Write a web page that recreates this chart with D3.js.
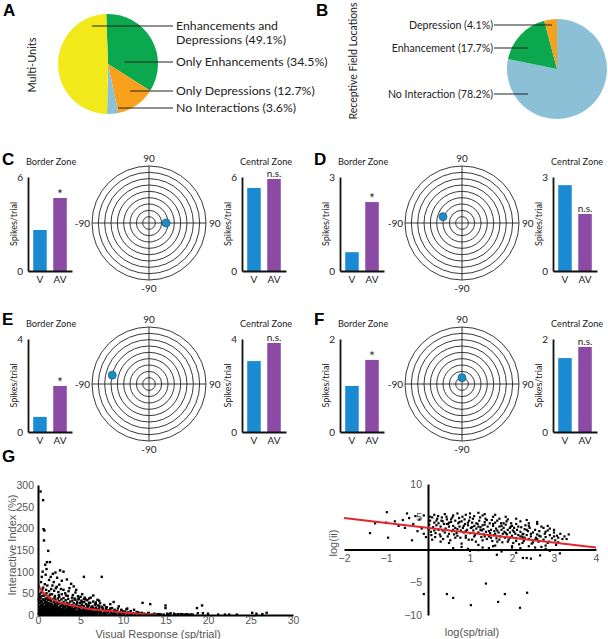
<!DOCTYPE html>
<html>
<head>
<meta charset="utf-8">
<script src="https://cdn.jsdelivr.net/npm/d3@7"></script>
<style>
  body { margin: 0; background: #fff; }
  svg { display: block; }
</style>
</head>
<body>
<svg id="fig" width="608" height="639"></svg>
<script>
const svg = d3.select('#fig');
const FONT = 'Lato, "Liberation Sans", sans-serif';
const SANS = '"Liberation Sans", Arial, sans-serif';
const NARROW = '"Liberation Sans Narrow", "Arial Narrow", "Liberation Sans", sans-serif';
const fmt = d3.format('d');

// ---------- data ----------
// pie A, clockwise from 12 o'clock
const multiUnitLabels = ['Only Enhancements', 'Only Depressions', 'No Interactions', 'Enhancements and Depressions'];
const multiUnitPct = [34.5, 12.7, 3.6, 49.1];
// pie B, clockwise from 12 o'clock
const rfLabels = ['No Interaction', 'Enhancement', 'Depression'];
const rfPct = [78.2, 17.7, 4.1];

// panels C-F
const panelNames = ['C', 'D', 'E', 'F'];
const barCats = ['V', 'AV'];
const borderV = [2.62, 0.6, 0.65, 0.99];
const borderAV = [4.66, 2.2, 1.98, 1.55];
const centralV = [5.3, 2.74, 3.05, 1.59];
const centralAV = [5.87, 1.82, 3.83, 1.83];
const spikeMax = [6, 3, 4, 2];
const rfAzimuth = [27, -30, -58, 0];
const rfElevation = [0, 10, 14, 10];
const polarRings = [10, 20, 30, 40, 50, 60, 70, 80, 90];

// panel G left: visual response (sp/trial) vs interactive index (%)
const visII = [
  [0.3,285],[0.6,265],[0.65,198],[0.75,195],[0.7,172],[1.2,148],[1.05,122],[1.4,122],[0.85,116],[0.55,100],
  [1.0,106],[2.6,103],[3.0,100],[2.05,98],[1.75,95],[0.45,88],[0.9,93],[1.5,88],[2.25,86],[3.4,82],
  [2.8,79],[5.4,88],[7.5,88],[1.3,81],[0.35,76],[1.85,76],[0.8,71],[3.9,72],[2.5,70],[4.2,66],
  [1.1,68],[0.6,63],[2.1,62],[1.55,60],[3.0,58],[0.95,58],[1.3,55],[1.9,56],[2.4,53],[3.6,55],
  [4.4,52],[0.4,52],[1.0,50],[1.65,48],[2.8,48],[6.5,45],[5.0,42],[3.3,45],[0.7,45],[1.2,43],
  [2.0,44],[4.0,40],[4.8,38],[5.6,36],[7.0,35],[8.9,30],[12.3,28],[13.2,25],[15.0,22],[15.0,16],
  [18.7,16],[19.3,22],[9.5,20],[3.7,62],[4.5,58],[2.2,65],[1.7,68],[0.5,58],[2.7,60],[3.2,50],
  [5.2,48],[6.2,40],[1.4,47],[0.25,42],[0.2,48],[0.5,44],[0.9,46],[1.1,38],[0.35,32],[0.6,36],
  [0.85,33],[1.45,36],[1.95,40],[2.5,42],[3.0,39],[3.5,44],[4.1,46],[4.7,43],[5.5,40],[6.0,38],
  [7.2,33],[6.8,29],[5.4,37],[4.3,38],[2.45,46],
  [0.1,35],[0.15,20],[0.2,8],[0.2,28],[0.25,3],[0.3,15],[0.3,38],[0.35,5],[0.4,22],[0.4,1],
  [0.45,12],[0.5,30],[0.5,6],[0.55,18],[0.6,2],[0.6,25],[0.65,10],[0.7,35],[0.7,4],[0.75,16],
  [0.8,28],[0.8,1],[0.85,8],[0.9,20],[0.9,38],[0.95,3],[1.0,14],[1.0,30],[1.05,6],[1.1,24],
  [1.1,0.5],[1.15,11],[1.2,34],[1.2,18],[1.25,3],[1.3,27],[1.3,8],[1.35,40],[1.4,15],[1.4,1],
  [1.45,22],[1.5,32],[1.5,5],[1.55,12],[1.6,26],[1.6,0.5],[1.65,18],[1.7,37],[1.7,7],[1.75,2],
  [1.8,22],[1.8,13],[1.85,30],[1.9,4],[1.9,17],[1.95,9],[2.0,26],[2.0,1],[2.05,35],[2.1,14],
  [2.1,6],[2.15,21],[2.2,3],[2.2,30],[2.25,11],[2.3,18],[2.35,38],[2.4,7],[2.4,25],[2.45,1],
  [2.5,15],[2.5,32],[2.55,4],[2.6,20],[2.65,10],[2.7,27],[2.7,2],[2.75,36],[2.8,13],[2.85,6],
  [2.9,23],[2.9,0.5],[2.95,17],[3.0,30],[3.0,8],[3.05,3],[3.1,12],[3.15,25],[3.2,19],[3.2,1],
  [3.25,34],[3.3,6],[3.35,14],[3.4,28],[3.4,2],[3.45,10],[3.5,21],[3.55,37],[3.6,4],[3.6,16],
  [3.65,26],[3.7,8],[3.75,1],[3.8,19],[3.8,31],[3.85,12],[3.9,5],[3.95,23],[4.0,15],[4.0,0.5],
  [4.05,33],[4.1,9],[4.15,20],[4.2,3],[4.2,27],[4.3,13],[4.35,6],[4.4,18],[4.4,35],[4.45,1],
  [4.5,24],[4.55,10],[4.6,30],[4.6,4],[4.7,16],[4.75,36],[4.8,7],[4.8,21],[4.85,2],[4.9,12],
  [4.95,28],[5.0,5],[5.0,18],[5.1,33],[5.15,9],[5.2,1],[5.2,24],[5.3,14],[5.35,4],[5.4,20],
  [5.45,30],[5.5,8],[5.55,2],[5.6,16],[5.65,25],[5.7,11],[5.8,5],[5.8,34],[5.85,19],[5.9,1],
  [5.95,13],[6.0,22],[6.05,7],[6.1,3],[6.15,28],[6.2,15],[6.3,10],[6.35,1],[6.4,20],[6.45,5],
  [6.5,31],[6.55,13],[6.6,2],[6.7,24],[6.75,8],[6.8,17],[6.9,4],[6.95,11],[7.0,1],[7.05,22],
  [7.1,6],[7.2,15],[7.3,27],[7.35,3],[7.4,9],[7.5,19],[7.6,1],[7.65,12],[7.7,5],[7.8,23],
  [7.9,8],[8.0,14],[8.05,2],[8.1,18],[8.2,6],[8.3,11],[8.4,1],[8.5,25],[8.55,4],[8.6,9],
  [8.7,16],[8.8,2],[8.9,7],[9.0,12],[9.1,4],[9.2,1],[9.3,9],[9.4,15],[9.5,3],[9.6,6],
  [9.7,1],[9.8,11],[9.9,4],[10.0,8],[10.1,2],[10.3,5],[10.4,13],[10.5,1],[10.6,6],[10.8,3],
  [10.9,9],[11.0,1],[11.2,4],[11.4,2],[11.6,7],[11.8,1],[12.0,3],[12.2,5],[12.5,1],[12.8,2],
  [13.0,4],[13.4,1],[13.7,3],[14.0,1],[14.3,2],[14.8,1],[15.2,3],[15.5,1],[16.2,1],[16.8,2],
  [17.3,1],[17.8,1],[18.2,1],[18.8,4],[19.4,4],[20.0,3],[21.2,1],[22.0,1],[22.5,1],[23.4,1],
  [25.2,5],[25.7,3],[26.4,2],[26.9,5],[16.0,3],[16.5,2],[17.0,2],[17.5,2],[18.0,1],[14.1,2],
  [14.5,1],[15.3,1],[15.6,4],[13.0,5],[12.5,3],[11.8,6],[11.3,12],[10.5,15],[10.2,8],[9.8,12],
  [9.0,10],[8.5,15],[8.0,18],[7.6,12],[7.2,20],[6.8,25],[6.3,18],[6.0,28],[5.8,22],[5.2,30],
  [4.6,27],[0.15,5],[0.3,9],[0.45,3],[0.55,14],[0.7,7],[0.85,13],[1.0,2],[1.05,19],[1.2,6],
  [1.35,10],[1.55,8],[1.65,4],[1.75,14],[1.9,10],[2.0,5],[2.15,16],[2.3,2],[2.35,9],[2.55,12],
  [2.6,6],[2.8,3],[2.95,11],[3.1,5],[3.3,9],[3.5,2],[3.7,12],[3.9,7],[4.1,4],[4.3,10],
  [4.5,5],[4.7,2],[4.9,8],[5.1,3],[5.3,10],[5.6,6],[5.9,9],[6.2,4],[6.6,7],[7.0,9],
  [7.3,3],[7.8,5],
  [0.2,12],[0.25,18],[0.35,24],[0.4,10],[0.5,16],[0.55,22],[0.65,20],[0.75,11],[0.8,19],[0.9,9],
  [0.95,24],[1.0,21],[1.1,15],[1.15,27],[1.25,13],[1.3,21],[1.4,9],[1.45,17],[1.55,24],[1.6,14],
  [1.7,10],[1.75,20],[1.85,7],[1.95,15],[2.0,20],[2.1,10],[2.2,24],[2.3,14],[2.4,12],[2.5,9],
  [2.6,16],[2.7,7],[2.75,21],[2.85,10],[3.0,14],[3.1,18],[3.2,10],[3.3,22],[3.45,5],[3.5,15],
  [3.65,9],[3.75,17],[3.9,11],[4.0,21],[4.1,13],[4.25,7],[4.4,15],[4.55,19],[4.7,9],[4.85,14],
  [5.0,11],[5.1,22],[5.25,7],[5.4,13],[5.6,9],[5.75,15],[5.9,6],[6.1,12],[6.3,7],[6.5,16],
  [6.7,4],[6.9,14],[7.1,10],[7.4,6],[7.6,16],[7.9,3],[8.2,9],[8.6,5],[9.0,3],[9.4,7],
  [0.1,2],[0.3,1],[0.5,0.5],[0.7,1.5],[0.9,0.5],[1.3,1.5],[1.5,2.5],[1.9,1],[2.1,1.5],[2.5,0.5],
  [2.9,2.5],[3.3,1.5],[3.7,3],[4.2,1],[4.6,1.5],[5.0,1],[5.5,0.5],[5.8,2],[6.2,1],[6.6,0.5]
];
const visFit = [[0.05,70],[0.3,60],[0.6,52],[1,45],[1.5,38],[2,33],[3,27],[4,22],[5,18],[6,14],
  [7,12],[8,10],[9,8],[10,6],[11,4],[12,3],[13,1.5],[14,0]];
const visXTicks = [0, 5, 10, 15, 20, 25, 30];
const visYTicks = [0, 50, 100, 150, 200, 250, 300];

// panel G right: log(sp/trial) vs log(ii)
const logII = [
  [-1.38,2.5],[-1.26,4.0],[-0.98,5.7],[-0.95,1.8],[-0.79,4.3],[-0.5,5.5],[-0.38,1.4],[-1.0,4.1],[-0.7,3.6],[-0.6,4.5],
  [-0.45,4.8],[-0.3,5.1],[-0.35,3.9],[-0.2,4.6],[-0.15,3.2],[-0.1,5.2],[-0.25,2.8],[-0.55,3.3],[-0.1,2.4],[-0.05,1.9],
  [-0.1,-6.8],[0.45,-6.8],[0.6,-7.4],[1.02,-8.5],[1.38,-5.2],[1.67,-8.0],[1.83,-6.8],[2.19,-8.9],[2.36,-6.6],
  [0.6,0.2],[0.95,0.1],[1.2,-0.1],[1.45,0.2],[1.64,-0.8],[1.75,-0.3],[2.0,0.3],[2.1,-0.5],[2.26,-1.3],[2.35,-1.3],
  [2.45,-1.4],[2.67,-0.9],[2.8,0.1],[3.14,-0.6],[2.55,0.3],[1.55,0.5],[0.8,0.4],[2.9,-0.2],
  [0.02,3.1],[0.05,4.4],[0.08,2.2],[0.03,3.8],[0.1,4.9],[0.07,2.7],[0.12,3.4],
  [0.15,4.1],[0.18,2.5],[0.2,3.7],[0.22,4.7],[0.25,3.0],[0.17,1.9],[0.24,5.1],
  [0.3,3.5],[0.32,4.4],[0.28,2.3],[0.35,2.9],[0.33,4.9],[0.38,3.9],[0.36,1.6],
  [0.42,3.2],[0.45,4.6],[0.4,2.6],[0.48,3.9],[0.47,2.0],[0.44,5.0],[0.5,3.5],
  [0.55,4.2],[0.57,2.8],[0.6,3.6],[0.58,4.9],[0.62,2.3],[0.53,1.4],[0.65,4.4],
  [0.7,3.1],[0.72,4.0],[0.68,2.5],[0.75,3.5],[0.74,4.8],[0.78,2.9],[0.77,1.8],
  [0.8,4.3],[0.83,3.3],[0.85,2.6],[0.88,3.9],[0.82,5.0],[0.9,2.1],[0.87,4.6],
  [0.93,3.0],[0.95,3.7],[0.98,4.4],[1.0,2.5],[0.97,1.5],[1.02,3.3],[1.0,4.9],
  [1.05,4.1],[1.08,2.9],[1.1,3.6],[1.12,2.2],[1.07,4.7],[1.15,3.2],[1.14,1.2],
  [1.18,3.9],[1.2,2.6],[1.22,4.4],[1.25,3.4],[1.27,1.9],[1.24,4.9],[1.28,2.9],
  [1.3,3.7],[1.33,2.3],[1.35,4.2],[1.32,3.1],[1.38,2.7],[1.37,4.7],[1.4,1.6],
  [1.42,3.5],[1.45,2.0],[1.47,4.0],[1.5,3.0],[1.48,2.5],[1.52,4.5],[1.53,1.3],
  [1.55,3.6],[1.58,2.8],[1.6,4.1],[1.57,2.2],[1.62,3.2],[1.63,1.7],[1.65,4.4],
  [1.68,2.6],[1.7,3.5],[1.72,2.0],[1.75,3.0],[1.74,4.0],[1.78,2.4],[1.77,1.1],
  [1.8,3.3],[1.82,2.7],[1.85,3.8],[1.83,1.8],[1.88,2.3],[1.87,4.3],[1.9,3.0],
  [1.92,1.5],[1.95,2.6],[1.97,3.5],[2.0,2.1],[1.98,4.0],[2.02,2.9],[2.03,1.0],
  [2.05,3.3],[2.08,2.4],[2.1,1.7],[2.12,3.0],[2.1,3.9],[2.15,2.2],[2.17,0.8],
  [2.2,2.7],[2.22,3.4],[2.25,1.9],[2.27,2.4],[2.3,3.1],[2.28,1.3],[2.32,3.7],
  [2.35,2.2],[2.38,2.8],[2.4,1.6],[2.42,3.3],[2.45,2.0],[2.47,0.9],[2.5,2.6],
  [2.55,3.0],[2.57,1.8],[2.6,2.3],[2.63,1.2],[2.65,2.8],[2.68,2.0],[2.7,3.5],
  [2.75,1.5],[2.78,2.4],[2.8,1.9],[2.85,2.9],[2.88,1.2],[2.9,2.2],[2.95,1.7],
  [3.0,2.6],[3.03,1.4],[3.07,2.1],[3.1,1.8],[3.15,2.4],[3.2,1.6],[3.05,0.7],[3.25,2.0],
  [0.6,5.2],[0.9,5.3],[1.1,5.1],[1.3,5.2],[1.55,5.0],[1.7,4.7],[1.9,4.6],[2.2,4.3],[2.4,4.0],[2.6,3.9],
  [0.4,5.4],[0.15,5.3],[1.0,5.5],[1.35,5.4],[2.75,3.3],[2.9,3.2],
  [0.25,4.0],[0.45,3.9],[0.65,3.3],[0.85,3.6],[1.05,3.4],[1.25,3.0],[1.45,2.8],[1.65,2.9],[1.85,2.5],[2.05,2.7],
  [2.25,2.3],[2.45,2.4],[2.65,2.1],[0.35,4.3],[0.55,4.6],[0.75,4.2],[0.95,4.1],[1.15,4.0],[1.35,3.8],[1.55,3.9],
  [1.75,3.6],[1.95,3.3],[2.15,3.5],[2.35,3.0],[0.5,2.4],[0.7,2.1],[0.9,1.8],[1.1,2.0],[1.3,1.4],[1.5,1.8],
  [1.7,1.5],[1.9,1.2],[2.1,1.3],[2.3,1.8],[2.5,1.1],
  [0.1,1.5],[0.3,1.2],[0.5,1.0],[0.8,0.9],[1.2,0.7],[1.6,0.6],[2.0,0.5],[2.4,0.5],[2.8,0.6],[3.1,1.1],
  [3.3,1.6],[3.35,2.3],[3.0,3.0],[2.85,3.6],[2.6,4.2],[2.35,4.5],[2.1,4.7],[1.85,5.0],[1.6,5.3],[1.2,5.6],
  [0.7,5.5],[0.2,4.4],[0.05,5.0],[0.5,4.1],[0.6,3.0],[0.9,2.8],[1.2,3.5],[1.4,4.5],[1.6,2.4],[1.8,4.0],
  [2.0,3.6],[2.2,2.0],[2.4,3.6],[2.6,1.6],[2.8,2.7],[3.0,2.0],[0.3,2.0],[0.15,2.9],[0.65,1.8],[1.05,1.5],
  [1.35,2.0],[1.65,1.2],[1.95,1.8],[2.25,1.0],[2.55,1.5],[2.85,1.0],[1.0,-0.2],[1.3,0.3],[2.2,0.2],[2.7,0.4]
];
const logFit = [[-2, 4.8], [4, 0.3]];
const logXTicks = [-2, -1, 1, 2, 3, 4];
const logYTicks = [-10, -5, 5, 10];

// ---------- colours ----------
const pieColorsA = ['#0ca84d', '#f7a11c', '#8cc0d6', '#f1e91a'];
const pieColorsB = ['#8cc0d6', '#0ca84d', '#f7a11c'];
const barColors = ['#1a8bd2', '#8b4aa4'];

// ---------- panel letters ----------
const letters = [['A', 3, 16], ['B', 316, 16], ['C', 2, 165], ['D', 314, 165], ['E', 2, 325], ['F', 314, 325], ['G', 2, 462]];
svg.selectAll('text.letter').data(letters).join('text')
  .attr('class', 'letter')
  .attr('x', d => d[1]).attr('y', d => d[2])
  .attr('font-family', SANS).attr('font-weight', 'bold').attr('font-size', 17)
  .text(d => d[0]);

// ---------- pies ----------
function drawPie(cx, cy, r, values, colors, start) {
  const pie = d3.pie().sort(null).startAngle(start).endAngle(start + 2 * Math.PI);
  const arc = d3.arc().innerRadius(0).outerRadius(r);
  svg.append('g').attr('transform', `translate(${cx},${cy})`)
    .selectAll('path').data(pie(values)).join('path')
    .attr('d', arc).attr('fill', (d, i) => colors[i]);
}
drawPie(108, 64, 50, multiUnitPct, pieColorsA, -0.035);
drawPie(557, 69, 50, rfPct, pieColorsB, 0);

// pie A labels (leader line y, line start x)
const labelA = [
  { name: 'Enhancements and Depressions', y: 26, x0: 92, lines: ['Enhancements and', 'Depressions'] },
  { name: 'Only Enhancements', y: 62, x0: 125, lines: ['Only Enhancements'] },
  { name: 'Only Depressions', y: 91, x0: 130, lines: ['Only Depressions'] },
  { name: 'No Interactions', y: 108, x0: 118, lines: ['No Interactions'] },
];
labelA.forEach(l => {
  const pct = multiUnitPct[multiUnitLabels.indexOf(l.name)];
  svg.append('line').attr('x1', l.x0).attr('x2', 173).attr('y1', l.y).attr('y2', l.y)
    .attr('stroke', '#222').attr('stroke-width', 1);
  const t = svg.append('text').attr('font-family', FONT).attr('font-size', 12.3).attr('fill', '#222');
  l.lines.forEach((s, i) => {
    const last = i === l.lines.length - 1;
    t.append('tspan').attr('x', 176).attr('y', l.y + 4 + i * 14)
      .text(last ? `${s} (${pct}%)` : s);
  });
});
svg.append('text').attr('transform', 'translate(36,65) rotate(-90)').attr('text-anchor', 'middle')
  .attr('font-family', FONT).attr('font-size', 11).attr('fill', '#222').text('Multi-Units');

// pie B labels
const labelB = [
  { name: 'Depression', y: 25, x1: 552 },
  { name: 'Enhancement', y: 48, x1: 528 },
  { name: 'No Interaction', y: 94, x1: 528 },
];
labelB.forEach(l => {
  const pct = rfPct[rfLabels.indexOf(l.name)];
  svg.append('line').attr('x1', 494).attr('x2', l.x1).attr('y1', l.y).attr('y2', l.y)
    .attr('stroke', '#222').attr('stroke-width', 1);
  svg.append('text').attr('x', 493).attr('y', l.y + 4).attr('text-anchor', 'end')
    .attr('font-family', FONT).attr('font-size', 10.6).attr('fill', '#222')
    .text(`${l.name} (${pct}%)`);
});
svg.append('text').attr('transform', 'translate(357,61) rotate(-90)').attr('text-anchor', 'middle')
  .attr('font-family', FONT).attr('font-size', 10.5).attr('fill', '#222').text('Receptive Field Locations');

// ---------- bar charts ----------
function barChart(x0, yTop, yBot, vals, max, title, mark) {
  const g = svg.append('g');
  const x = d3.scaleBand().domain(barCats).range([x0, x0 + 44]).paddingInner(0.325).paddingOuter(0.26);
  const y = d3.scaleLinear().domain([0, max]).range([yBot, yTop]);

  g.selectAll('rect').data(vals).join('rect')
    .attr('x', (d, i) => x(barCats[i])).attr('width', x.bandwidth())
    .attr('y', d => y(d)).attr('height', d => yBot - y(d))
    .attr('fill', (d, i) => barColors[i]);

  const ya = g.append('g').attr('transform', `translate(${x0},0)`)
    .call(d3.axisLeft(y).tickValues([0, max]).tickFormat(fmt).tickSize(0).tickPadding(5).tickSizeOuter(0));
  const xa = g.append('g').attr('transform', `translate(0,${yBot})`)
    .call(d3.axisBottom(x).tickSize(0).tickPadding(5).tickSizeOuter(0));
  [ya, xa].forEach(a => {
    a.select('.domain').attr('stroke', '#111').attr('stroke-width', 1.8);
    a.selectAll('text').attr('font-family', FONT).attr('font-size', 10).attr('fill', '#222');
  });

  g.append('text').attr('x', x('AV') + x.bandwidth() / 2).attr('y', y(vals[1]) - (mark === '*' ? -1 : 2))
    .attr('text-anchor', 'middle').attr('font-family', FONT)
    .attr('font-size', mark === '*' ? 13 : 10).attr('fill', '#222').text(mark);

  g.append('text').attr('x', x0 - 2).attr('y', yTop - 12)
    .attr('font-family', FONT).attr('font-size', 9.2).attr('fill', '#222').text(title);

  g.append('text').attr('transform', `translate(${x0 - 11},${(yTop + yBot) / 2}) rotate(-90)`)
    .attr('text-anchor', 'middle').attr('font-family', FONT).attr('font-size', 9).attr('fill', '#222')
    .text('Spikes/trial');
}

function polarPlot(cx, cy, az, el) {
  const R = 57;
  const rr = d3.scaleLinear().domain([0, 90]).range([0, R]);
  const sx = d3.scaleLinear().domain([-90, 90]).range([cx - R, cx + R]);
  const sy = d3.scaleLinear().domain([-90, 90]).range([cy + R, cy - R]);
  const g = svg.append('g');
  g.selectAll('circle.ring').data(polarRings).join('circle')
    .attr('class', 'ring').attr('cx', cx).attr('cy', cy).attr('r', d => rr(d))
    .attr('fill', 'none').attr('stroke', '#222').attr('stroke-width', 0.9);
  g.append('line').attr('x1', sx(-90)).attr('x2', sx(90)).attr('y1', cy).attr('y2', cy)
    .attr('stroke', '#222').attr('stroke-width', 0.9);
  g.append('line').attr('x1', cx).attr('x2', cx).attr('y1', sy(90)).attr('y2', sy(-90))
    .attr('stroke', '#222').attr('stroke-width', 0.9);
  const lab = (x, y, a, s) => g.append('text').attr('x', x).attr('y', y).attr('text-anchor', a)
    .attr('font-family', FONT).attr('font-size', 10).attr('fill', '#222').text(s);
  lab(cx, sy(90) - 4, 'middle', '90');
  lab(sx(-90) - 2, cy + 3.5, 'end', '-90');
  lab(sx(90) + 3, cy + 3.5, 'start', '90');
  lab(cx, sy(-90) + 12, 'middle', '-90');
  g.append('circle').attr('cx', sx(az)).attr('cy', sy(el)).attr('r', 4)
    .attr('fill', '#1d8bc6').attr('stroke', '#16648f').attr('stroke-width', 0.8);
}

const panelLayout = [
  { bx: 28, cxp: 149, ux: 242, top: 177, bot: 271, pcy: 223 },
  { bx: 340, cxp: 462, ux: 553, top: 177, bot: 271, pcy: 223 },
  { bx: 28, cxp: 149, ux: 242, top: 339, bot: 432, pcy: 384 },
  { bx: 340, cxp: 462, ux: 553, top: 339, bot: 432, pcy: 384 },
];
panelNames.forEach((p, i) => {
  const L = panelLayout[i];
  barChart(L.bx, L.top, L.bot, [borderV[i], borderAV[i]], spikeMax[i], 'Border Zone', '*');
  barChart(L.ux, L.top, L.bot, [centralV[i], centralAV[i]], spikeMax[i], 'Central Zone', 'n.s.');
  polarPlot(L.cxp, L.pcy, rfAzimuth[i], rfElevation[i]);
});

// ---------- G left ----------
{
  const x = d3.scaleLinear().domain([0, 30]).range([38, 293]);
  const y = d3.scaleLinear().domain([0, 300]).range([615, 485]);
  const g = svg.append('g');
  g.selectAll('rect').data(visII).join('rect')
    .attr('x', d => x(d[0]) - 1.2).attr('y', d => y(d[1]) - 1.2)
    .attr('width', 2.4).attr('height', 2.4).attr('fill', '#000');
  g.append('path').datum(visFit)
    .attr('d', d3.line().x(d => x(d[0])).y(d => y(d[1])).curve(d3.curveMonotoneX))
    .attr('fill', 'none').attr('stroke', '#e2262b').attr('stroke-width', 2);
  const ya = g.append('g').attr('transform', 'translate(38,0)')
    .call(d3.axisLeft(y).tickValues(visYTicks).tickFormat(fmt).tickSize(0).tickPadding(4).tickSizeOuter(0));
  const xa = g.append('g').attr('transform', 'translate(0,615)')
    .call(d3.axisBottom(x).tickValues(visXTicks).tickFormat(fmt).tickSize(0).tickPadding(2).tickSizeOuter(0));
  [ya, xa].forEach(a => {
    a.select('.domain').attr('stroke', '#000').attr('stroke-width', 2);
    a.selectAll('text').attr('font-family', NARROW).attr('font-size', 10.5).attr('fill', '#555');
  });
  g.append('text').attr('x', 158).attr('y', 637.5).attr('text-anchor', 'middle')
    .attr('font-family', NARROW).attr('font-size', 11).attr('fill', '#555').text('Visual Response (sp/trial)');
  g.append('text').attr('transform', 'translate(16,545) rotate(-90)').attr('text-anchor', 'middle')
    .attr('font-family', NARROW).attr('font-size', 11).attr('fill', '#555').text('Interactive Index (%)');
}

// ---------- G right ----------
{
  const x = d3.scaleLinear().domain([-2, 4]).range([344, 596]);
  const y = d3.scaleLinear().domain([-10, 10]).range([615, 484]);
  const g = svg.append('g');
  g.selectAll('rect').data(logII).join('rect')
    .attr('x', d => x(d[0]) - 1.1).attr('y', d => y(d[1]) - 1.1)
    .attr('width', 2.2).attr('height', 2.2).attr('fill', '#000');
  const xa = g.append('g').attr('transform', `translate(0,${y(0)})`)
    .call(d3.axisBottom(x).tickValues(logXTicks).tickFormat(fmt).tickSize(0).tickPadding(5).tickSizeOuter(0));
  const ya = g.append('g').attr('transform', `translate(${x(0)},0)`)
    .call(d3.axisLeft(y).tickValues(logYTicks).tickFormat(fmt).tickSize(0).tickPadding(6).tickSizeOuter(0));
  [ya, xa].forEach(a => {
    a.select('.domain').attr('stroke', '#000').attr('stroke-width', 2);
    a.selectAll('text').attr('font-family', NARROW).attr('font-size', 10.5).attr('fill', '#555');
  });
  g.append('path').datum(logFit)
    .attr('d', d3.line().x(d => x(d[0])).y(d => y(d[1])))
    .attr('fill', 'none').attr('stroke', '#e2262b').attr('stroke-width', 2);
  g.append('text').attr('x', 472).attr('y', 636).attr('text-anchor', 'middle')
    .attr('font-family', NARROW).attr('font-size', 11).attr('fill', '#555').text('log(sp/trial)');
  g.append('text').attr('transform', 'translate(337,543) rotate(-90)').attr('text-anchor', 'middle')
    .attr('font-family', NARROW).attr('font-size', 11).attr('fill', '#555').text('log(ii)');
}
</script>
</body>
</html>
